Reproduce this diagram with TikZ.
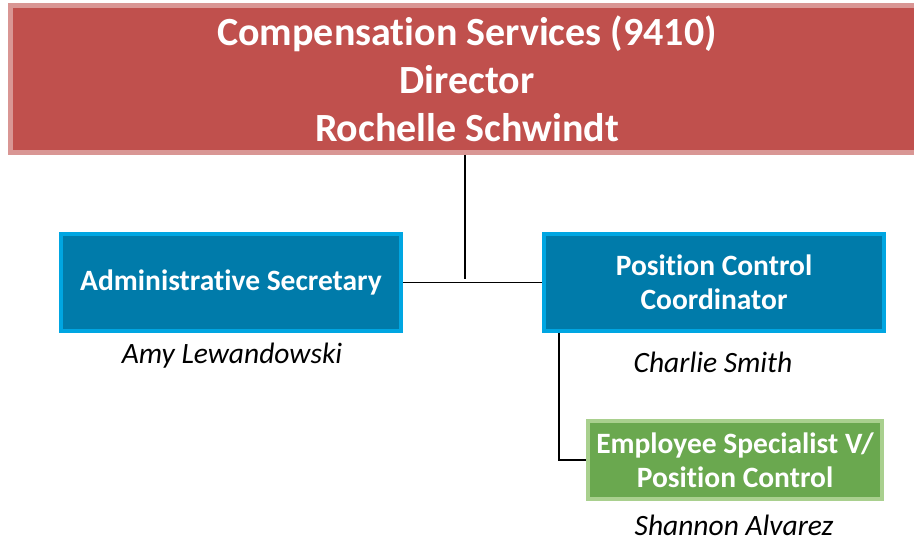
\documentclass[tikz,border=0pt]{standalone}
\usepackage{fontspec}
\setmainfont{Carlito}[Ligatures=NoCommon]
\usetikzlibrary{positioning}

\definecolor{dirred}{HTML}{C0504D}
\definecolor{dirredline}{HTML}{D99694}
\definecolor{posblue}{HTML}{007BAA}
\definecolor{posblueline}{HTML}{00A6E2}
\definecolor{specgreen}{HTML}{6AA84F}
\definecolor{specgreenline}{HTML}{A9D08E}

\begin{document}
\begin{tikzpicture}[
  x=1pt, y=-1pt,
  head/.style={rectangle, draw=dirredline, fill=dirred, line width=5pt, text=white,
               minimum width=913pt, minimum height=147pt, align=center, inner sep=0pt,
               font=\fontsize{40}{48}\selectfont\bfseries},
  post/.style={rectangle, draw=posblueline, fill=posblue, line width=4pt, text=white,
               minimum width=340pt, minimum height=97pt, align=center, inner sep=0pt,
               font=\fontsize{29.5}{34}\selectfont\bfseries},
  staff/.style={rectangle, draw=specgreenline, fill=specgreen, line width=4pt, text=white,
                minimum width=294pt, minimum height=78pt, align=center, inner sep=0pt,
                font=\fontsize{29.5}{34}\selectfont\bfseries},
  who/.style={font=\fontsize{29.5}{34}\selectfont\itshape, inner sep=0pt},
  link/.style={draw=black, line width=1.6pt},
]
\useasboundingbox (0,0) rectangle (914,548);
\clip (0,0) rectangle (914,548);

\node[head]  (dir)   at (467,79)    {Compensation Services (9410)\\Director\\Rochelle Schwindt};
\node[post]  (admin) at (231,282.5) {\raisebox{-3pt}{Administrative Secretary}};
\node[post]  (pcc)   at (714,282.5) {Position Control\\Coordinator};
\node[staff] (spec)  at (735,460)   {Employee Specialist V/\\Position Control};

\node[who] (amy)     at (232,356) {Amy Lewandowski};
\node[who] (charlie) at (713,362) {Charlie Smith};
\node[who] (shannon) at (734,525) {Shannon Alvarez};

\draw[link] ([xshift=-2pt]dir.south) -- ([xshift=-2pt,yshift=3pt]dir.south |- admin.east);
\draw[link] (admin.east) -- (pcc.west);
\draw[link] ([xshift=17pt]pcc.south west) |- (spec.west);

\end{tikzpicture}
\end{document}
